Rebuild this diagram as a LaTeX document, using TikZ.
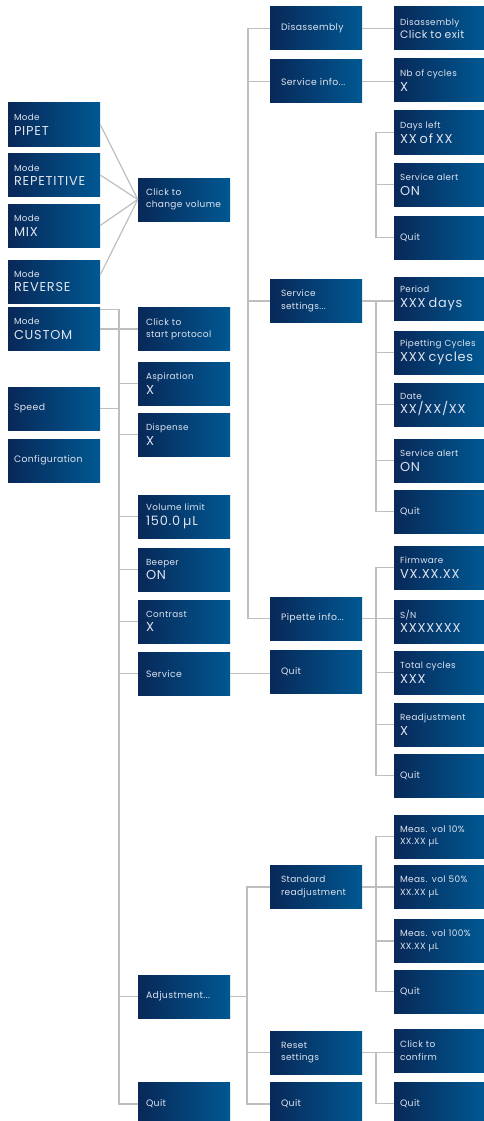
\documentclass[tikz,border=0pt]{standalone}
\usepackage{fontspec}
\setmainfont{Poppins}[LetterSpace=4]
\newfontfamily\valfont{Poppins}[LetterSpace=6]
\definecolor{navL}{RGB}{8,40,88}
\definecolor{navR}{RGB}{0,88,146}
\definecolor{txt}{RGB}{222,228,238}
\definecolor{lnc}{RGB}{190,190,192}
\newcommand\sm{\fontsize{8.8}{10}\selectfont}
\newcommand\bgv{\valfont\fontsize{12.9}{14}\selectfont}
\newcommand\lv[2]{{\sm #1}\\{\bgv #2}}
\tikzset{
  bx/.style={rectangle, left color=navL, right color=navR, text=txt, minimum height=43pt,
    inner ysep=0pt, align=left, font=\fontsize{8.8}{14.5}\selectfont},
  twos/.style={font=\fontsize{9}{12.5}\selectfont},
  one/.style={font=\fontsize{9.3}{11}\selectfont},
  ca/.style={bx, text width=80pt, inner xsep=6pt},
  cb/.style={bx, text width=76pt, inner xsep=8pt},
  cc/.style={bx, text width=70pt, inner xsep=11pt},
  cd/.style={bx, text width=78pt, inner xsep=6pt},
  ln/.style={draw=lnc, line width=1.2pt}
}
\begin{document}
\begin{tikzpicture}[x=1pt,y=-1pt]
\useasboundingbox (0,0) rectangle (484,1121);
% column 1
\node[ca] (pipet) at (54,124.5) {\lv{Mode}{PIPET}};
\node[ca] (rep) at (54,175) {\lv{Mode}{REPETITIVE}};
\node[ca] (mix) at (54,225.5) {\lv{Mode}{MIX}};
\node[ca] (rev) at (54,281.5) {\lv{Mode}{REVERSE}};
\node[ca] (custom) at (54,329) {\lv{Mode}{CUSTOM}};
\node[ca,one] (speed) at (54,408.5) {Speed};
\node[ca,one] (config) at (54,460.5) {Configuration};
% column 2
\node[cb,twos] (cv) at (184,199.5) {Click to\\change volume};
\node[cb,twos] (csp) at (184,329) {Click to\\start protocol};
\node[cb] (asp) at (184,383.5) {\lv{Aspiration}{X}};
\node[cb] (disp) at (184,434.5) {\lv{Dispense}{X}};
\node[cb] (vol) at (184,516.5) {\lv{Volume limit}{150.0 µL}};
\node[cb] (beep) at (184,569.5) {\lv{Beeper}{ON}};
\node[cb] (con) at (184,621.5) {\lv{Contrast}{X}};
\node[cb,one] (serv) at (184,673.5) {Service};
\node[cb,one] (adj) at (184,996.5) {Adjustment...};
\node[cb,one] (quitA) at (184,1104) {Quit};
% column 3
\node[cc,one] (disA) at (316,28.5) {Disassembly};
\node[cc,one] (sinfo) at (316,81.5) {Service info...};
\node[cc,twos] (sset) at (316,301) {Service\\settings...};
\node[cc,one] (pinfo) at (316,618.5) {Pipette info...};
\node[cc,one] (quitB) at (316,671.5) {Quit};
\node[cc,twos] (std) at (316,887) {Standard\\readjustment};
\node[cc,twos] (reset) at (316,1052.5) {Reset\\settings};
\node[cc,one] (quitF) at (316,1104) {Quit};
% column 4
\node[cd,font=\fontsize{8.8}{12.5}\selectfont] (disB) at (439,28.5) {{\sm Disassembly}\\{\fontsize{10.8}{12}\selectfont Click to exit}};
\node[cd] (nb) at (439,80.5) {\lv{Nb of cycles}{X}};
\node[cd] (days) at (439,132.5) {\lv{Days left}{XX of XX}};
\node[cd] (sal1) at (439,184.5) {\lv{Service alert}{ON}};
\node[cd,one] (quitC) at (439,237.5) {Quit};
\node[cd] (period) at (439,298.5) {\lv{Period}{XXX days}};
\node[cd] (pip) at (439,352.5) {\lv{Pipetting Cycles}{XXX cycles}};
\node[cd] (date) at (439,404.5) {\lv{Date}{XX/XX/XX}};
\node[cd] (sal2) at (439,460.5) {\lv{Service alert}{ON}};
\node[cd,one] (quitD) at (439,511.5) {Quit};
\node[cd] (firm) at (439,567.5) {\lv{Firmware}{VX.XX.XX}};
\node[cd] (sn) at (439,621.5) {\lv{S/N}{XXXXXXX}};
\node[cd] (total) at (439,672.5) {\lv{Total cycles}{XXX}};
\node[cd] (readj) at (439,724.5) {\lv{Readjustment}{X}};
\node[cd,one] (quitE) at (439,775.5) {Quit};
\node[cd,twos] (m10) at (439,836.5) {Meas. vol 10\%\\XX.XX µL};
\node[cd,twos] (m50) at (439,887) {Meas. vol 50\%\\XX.XX µL};
\node[cd,twos] (m100) at (439,941) {Meas. vol 100\%\\XX.XX µL};
\node[cd,one] (quitG) at (439,991.5) {Quit};
\node[cd,twos] (confirm) at (439,1050.5) {Click to\\confirm};
\node[cd,one] (quitH) at (439,1103.5) {Quit};
% trunk coordinates
\coordinate (tA) at (119,0);
\coordinate (tB) at (248,0);
\coordinate (tC) at (376,0);
\coordinate (tD) at (247,0);
% mode fan
\draw[ln] (pipet.east) -- (cv.west);
\draw[ln] (rep.east) -- (cv.west);
\draw[ln] (mix.east) -- (cv.west);
\draw[ln] ([yshift=6.5pt]rev.east) -- (cv.west);
% custom trunk
\draw[ln] (custom.east) -- (csp.west);
\draw[ln] ([yshift=-2pt]custom.north east) -| (tA |- quitA.west) -- (quitA.west);
\draw[ln] (speed.east) -- (tA |- speed.east);
\foreach \n in {asp,disp,vol,beep,con,serv,adj} \draw[ln] (tA |- \n.west) -- (\n.west);
% service
\draw[ln] (serv.east) -- (serv.east -| quitB.west);
% column 3 trunk
\draw[ln] (disA.west) -- (tB |- disA.west) -- (tB |- pinfo.west) -- (pinfo.west);
\draw[ln] (tB |- sinfo.west) -- (sinfo.west);
\draw[ln] (tB |- sset.west) -- (sset.west);
\draw[ln] (disA.east) -- (disA.east -| disB.west);
\draw[ln] (sinfo.east) -- (sinfo.east -| nb.west);
% days group
\draw[ln] (days.west) -- (tC |- days.west) -- (tC |- quitC.west) -- (quitC.west);
\draw[ln] (tC |- sal1.west) -- (sal1.west);
% service settings group
\draw[ln] (sset.east) -- (sset.east -| period.west);
\draw[ln] (tC |- sset.east) -- (tC |- quitD.west) -- (quitD.west);
\foreach \n in {pip,date,sal2} \draw[ln] (tC |- \n.west) -- (\n.west);
% pipette info group
\draw[ln] (pinfo.east) -- (pinfo.east -| sn.west);
\draw[ln] (firm.west) -- (tC |- firm.west) -- (tC |- quitE.west) -- (quitE.west);
\foreach \n in {total,readj} \draw[ln] (tC |- \n.west) -- (\n.west);
% adjustment group
\draw[ln] (adj.east) -- (tD |- adj.east);
\draw[ln] (std.west) -- (tD |- std.west) -- (tD |- quitF.west) -- (quitF.west);
\draw[ln] (tD |- reset.west) -- (reset.west);
% standard readjustment group
\draw[ln] (std.east) -- (std.east -| m50.west);
\draw[ln] (m10.west) -- (tC |- m10.west) -- (tC |- quitG.west) -- (quitG.west);
\draw[ln] (tC |- m100.west) -- (m100.west);
% reset group
\draw[ln] (reset.east) -- (reset.east -| confirm.west);
\draw[ln] (tC |- reset.east) -- (tC |- quitH.west) -- (quitH.west);
\end{tikzpicture}
\end{document}
